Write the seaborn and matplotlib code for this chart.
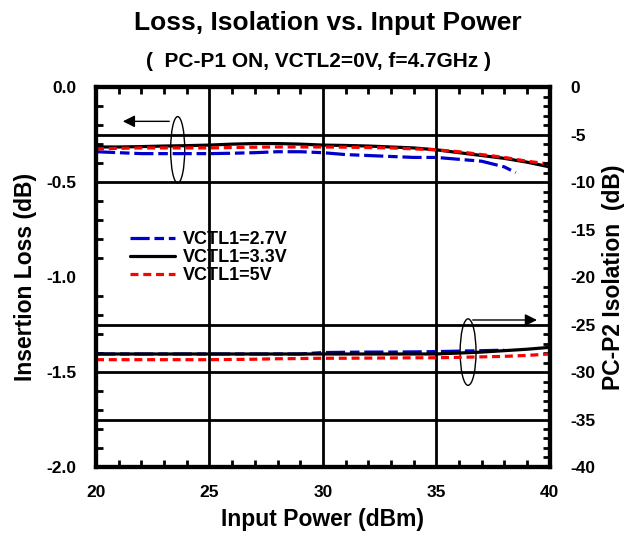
import seaborn as sns
import matplotlib.pyplot as plt
import pandas as pd
import numpy as np
from matplotlib.patches import Ellipse
from matplotlib.ticker import MultipleLocator

# input power (dBm)
pin = [20, 21, 22, 23, 24, 25, 26, 27, 28, 29, 30,
       31, 32, 33, 34, 35, 36, 37, 38, 39, 40]

# insertion loss (dB), left axis
il_33 = [-0.315, -0.315, -0.313, -0.31, -0.308, -0.305, -0.30, -0.297, -0.297, -0.30, -0.305,
         -0.307, -0.31, -0.315, -0.32, -0.33, -0.345, -0.36, -0.375, -0.395, -0.42]
il_5 = [-0.325, -0.322, -0.32, -0.32, -0.32, -0.32, -0.318, -0.316, -0.315, -0.315, -0.315,
        -0.316, -0.318, -0.32, -0.325, -0.33, -0.34, -0.355, -0.37, -0.39, -0.405]
pin_27 = [20, 21, 22, 23, 24, 25, 26, 27, 28, 29, 30,
          31, 32, 33, 34, 35, 36, 37, 38, 38.5]
il_27 = [-0.34, -0.345, -0.35, -0.35, -0.35, -0.35, -0.348, -0.345, -0.34, -0.34, -0.345,
         -0.355, -0.36, -0.365, -0.37, -0.37, -0.38, -0.39, -0.42, -0.45]

# PC-P2 isolation (dB), right axis
iso_33 = [-28.1, -28.1, -28.1, -28.1, -28.1, -28.1, -28.1, -28.1, -28.1, -28.1, -28.1,
          -28.1, -28.1, -28.1, -28.1, -28.1, -28.0, -27.9, -27.75, -27.6, -27.4]
iso_5 = [-28.7, -28.7, -28.7, -28.7, -28.7, -28.7, -28.68, -28.65, -28.6, -28.58, -28.55,
         -28.55, -28.53, -28.52, -28.5, -28.5, -28.45, -28.4, -28.35, -28.25, -28.1]
pin_iso_27 = [20, 21, 22, 23, 24, 25, 26, 27, 28, 29, 30,
              31, 32, 33, 34, 35, 36, 37, 38]
iso_27 = [-28.1, -28.1, -28.1, -28.1, -28.1, -28.1, -28.1, -28.1, -28.1, -28.1, -27.95,
          -27.92, -27.9, -27.9, -27.88, -27.85, -27.8, -27.75, -27.7]

sns.set_style("ticks")
plt.rcParams['font.family'] = ['Liberation Sans', 'DejaVu Sans']
plt.rcParams['font.weight'] = 'bold'
plt.rcParams.update({'text.color': 'black', 'axes.labelcolor': 'black',
                     'xtick.color': 'black', 'ytick.color': 'black',
                     'axes.edgecolor': 'black'})

fig = plt.figure(figsize=(6.4, 5.38), dpi=100)
ax = fig.add_axes([0.15, 0.132, 0.709, 0.706])
ax2 = ax.twinx()

blue = "#0000CC"
red = "#FF0000"
s_blue = dict(color=blue, lw=2.3, dashes=(6, 1.5, 3, 1.5))
s_black = dict(color="black", lw=2.3)
s_red = dict(color=red, lw=2.3, dashes=(2.5, 1.5))

sns.lineplot(x=pin_27, y=il_27, ax=ax, label="VCTL1=2.7V", **s_blue)
sns.lineplot(x=pin, y=il_33, ax=ax, label="VCTL1=3.3V", **s_black)
sns.lineplot(x=pin, y=il_5, ax=ax, label="VCTL1=5V", **s_red)

sns.lineplot(x=pin_iso_27, y=iso_27, ax=ax2, **s_blue)
sns.lineplot(x=pin, y=iso_33, ax=ax2, **s_black)
sns.lineplot(x=pin, y=iso_5, ax=ax2, **s_red)

ax.set_xlim(20, 40)
ax.set_ylim(-2.0, 0.0)
ax2.set_ylim(-40, 0)

# grid lines
for gx in [25, 30, 35]:
    ax.axvline(gx, color="black", lw=2, zorder=0)
for gy in [-0.25, -0.5, -1.25, -1.5, -1.75]:
    ax.axhline(gy, color="black", lw=2, zorder=0)

ax.xaxis.set_major_locator(MultipleLocator(5))
ax.xaxis.set_minor_locator(MultipleLocator(1))
ax.yaxis.set_minor_locator(MultipleLocator(0.1))
ax.set_yticks([-2.0, -1.5, -1.0, -0.5, 0.0])
ax.set_yticklabels(["-2.0", "-1.5", "-1.0", "-0.5", "0.0"])
ax2.set_yticks(list(range(-40, 1, 5)))
ax2.set_yticklabels([str(v) for v in range(-40, 1, 5)])
ax2.yaxis.set_minor_locator(MultipleLocator(1))

ax.tick_params(axis="both", which="both", direction="in", top=True, bottom=True,
               labelsize=12.5, width=2, colors="black")
ax.tick_params(which="major", length=0)
ax.tick_params(axis="x", which="major", pad=13)
ax.tick_params(axis="y", which="major", pad=14)
ax.tick_params(which="minor", length=5)
ax2.tick_params(axis="y", which="both", direction="in", labelsize=12.5, width=2, colors="black")
ax2.tick_params(which="major", length=0, pad=15)
ax2.tick_params(which="minor", length=5)
for lab in ax.get_xticklabels() + ax.get_yticklabels() + ax2.get_yticklabels():
    lab.set_fontweight("bold")

for a in (ax, ax2):
    for sp in a.spines.values():
        sp.set_linewidth(3)
        sp.set_color("black")
        sp.set_visible(True)

ax.set_xlabel("Input Power (dBm)", fontsize=16.5, fontweight="bold", va="center")
ax.set_ylabel("Insertion Loss (dB)", fontsize=16.5, fontweight="bold", va="center")
ax2.set_ylabel("PC-P2 Isolation  (dB)", fontsize=16.5, fontweight="bold", va="center")
ax.xaxis.set_label_coords(0.5, -0.139)
ax.yaxis.set_label_coords(-0.156, 0.5)
ax2.yaxis.set_label_coords(1.141, 0.5)

fig.text(0.512, 0.944, "Loss, Isolation vs. Input Power", ha="center", va="baseline",
         fontsize=19, fontweight="bold")
fig.text(0.498, 0.875, "(  PC-P1 ON, VCTL2=0V, f=4.7GHz )", ha="center", va="baseline",
         fontsize=15, fontweight="bold")

leg = ax.legend(loc="upper left", bbox_to_anchor=(0.075, 0.62), frameon=False,
                fontsize=13, handlelength=2.5, handletextpad=0.4, labelspacing=0.05,
                borderaxespad=0, borderpad=0)
for t in leg.get_texts():
    t.set_fontweight("bold")
    t.set_color("black")

# arrows + loops
ax.annotate("", xy=(21.06, -0.18), xytext=(23.35, -0.18),
            arrowprops=dict(arrowstyle="-|>", color="black", lw=1, mutation_scale=18))
ax.add_patch(Ellipse((23.6, -0.33), 0.62, 0.35, fill=False, color="black", lw=1))
ax.annotate("", xy=(39.56, -1.226), xytext=(36.48, -1.226),
            arrowprops=dict(arrowstyle="-|>", color="black", lw=1, mutation_scale=18))
ax.add_patch(Ellipse((36.4, -1.395), 0.7, 0.35, fill=False, color="black", lw=1))

fig.savefig("out.png", dpi=100)
